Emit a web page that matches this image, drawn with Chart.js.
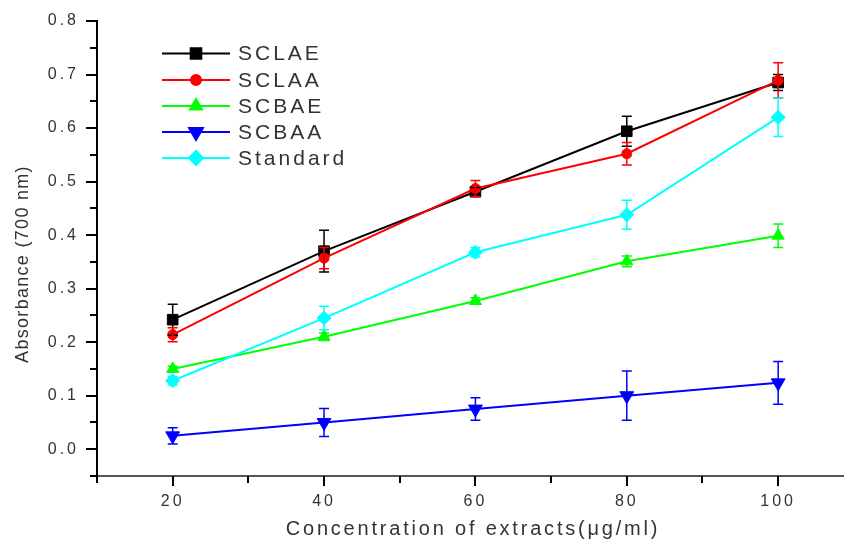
<!DOCTYPE html>
<html>
<head>
<meta charset="utf-8">
<script src="https://cdn.jsdelivr.net/npm/chart.js@4.4.0/dist/chart.umd.min.js"></script>
<style>
html, body { margin: 0; padding: 0; background: #fff; overflow: hidden; }
#wrap { position: relative; width: 844px; height: 542px; }
</style>
</head>
<body>
<div id="wrap"><canvas id="chart"></canvas></div>
<script>
// --- DATA ---
const concentrations = [20, 40, 60, 80, 100];
const xTickValues = [20, 40, 60, 80, 100];
const yTickValues = [0, 0.1, 0.2, 0.3, 0.4, 0.5, 0.6, 0.7, 0.8];
const seriesNames = ['SCLAE', 'SCLAA', 'SCBAE', 'SCBAA', 'Standard'];

const sclae = [0.242, 0.370, 0.481, 0.594, 0.685];
const sclaeErr = [0.029, 0.039, 0.008, 0.028, 0.015];
const sclaa = [0.214, 0.357, 0.487, 0.552, 0.689];
const sclaaErr = [0.013, 0.020, 0.015, 0.021, 0.033];
const scbae = [0.150, 0.210, 0.277, 0.351, 0.399];
const scbaeErr = [0.005, 0.007, 0.006, 0.010, 0.022];
const scbaa = [0.025, 0.050, 0.075, 0.100, 0.124];
const scbaaErr = [0.015, 0.026, 0.021, 0.046, 0.040];
const standard = [0.128, 0.245, 0.368, 0.438, 0.620];
const standardErr = [0.008, 0.022, 0.009, 0.027, 0.036];

// --- STYLE ---
const FONT = "'Liberation Sans', Arial, sans-serif";
const colors = ['#000000', '#ff0000', '#00ff00', '#0000ff', '#00ffff'];
const styles = [
    { pointStyle: 'rect', radius: 7.5, rotation: 0 },
    { pointStyle: 'circle', radius: 5, rotation: 0 },
    { pointStyle: 'triangle', radius: 7, rotation: 0 },
    { pointStyle: 'triangle', radius: 8, rotation: 180 },
    { pointStyle: 'rectRot', radius: 7, rotation: 0 }
];
const allValues = [sclae, sclaa, scbae, scbaa, standard];
const allErrors = [sclaeErr, sclaaErr, scbaeErr, scbaaErr, standardErr];

const datasets = seriesNames.map((name, i) => ({
    label: name,
    data: concentrations.map((c, j) => ({ x: c, y: allValues[i][j] })),
    errors: allErrors[i],
    borderColor: colors[i],
    backgroundColor: colors[i],
    borderWidth: 2,
    pointStyle: styles[i].pointStyle,
    pointRadius: styles[i].radius,
    pointRotation: styles[i].rotation,
    pointBorderWidth: 1,
    pointBorderColor: colors[i],
    pointBackgroundColor: colors[i],
    tension: 0,
    order: 10 - i // later series drawn on top
}));

// letter spacing for the stretched Origin-style text
const spacingPlugin = {
    id: 'spacing',
    beforeUpdate(chart) { chart.ctx.letterSpacing = '3px'; },
    beforeDraw(chart) { chart.ctx.letterSpacing = '3px'; }
};

// error bars
const errorBarPlugin = {
    id: 'errorBars',
    afterDatasetsDraw(chart) {
        const ctx = chart.ctx;
        const yScale = chart.scales.y;
        ctx.save();
        chart.data.datasets.forEach((ds, i) => {
            const meta = chart.getDatasetMeta(i);
            ctx.strokeStyle = ds.borderColor;
            ctx.lineWidth = 1.5;
            meta.data.forEach((pt, j) => {
                const v = ds.data[j].y;
                const e = ds.errors[j];
                const yTop = yScale.getPixelForValue(v + e);
                const yBot = yScale.getPixelForValue(v - e);
                ctx.beginPath();
                ctx.moveTo(pt.x, yTop);
                ctx.lineTo(pt.x, yBot);
                ctx.moveTo(pt.x - 5, yTop);
                ctx.lineTo(pt.x + 5, yTop);
                ctx.moveTo(pt.x - 5, yBot);
                ctx.lineTo(pt.x + 5, yBot);
                ctx.stroke();
            });
        });
        ctx.restore();
    }
};

// axis tick marks (major + minor), titles and legend
const decorPlugin = {
    id: 'decor',
    afterDraw(chart) {
        const ctx = chart.ctx;
        const { x, y } = chart.scales;
        const area = chart.chartArea;
        ctx.save();
        ctx.strokeStyle = '#000';
        ctx.lineWidth = 2;

        // y ticks
        for (let k = -1; k <= 16; k++) {
            const val = k * 0.05;
            const py = Math.round(y.getPixelForValue(val));
            const len = k % 2 === 0 ? 11 : 7;
            ctx.beginPath();
            ctx.moveTo(area.left - len, py);
            ctx.lineTo(area.left, py);
            ctx.stroke();
        }
        // x ticks
        for (let v = 10; v <= 100; v += 10) {
            const px = Math.round(x.getPixelForValue(v));
            const len = (v % 20 === 0) ? 10 : 7;
            ctx.beginPath();
            ctx.moveTo(px, area.bottom);
            ctx.lineTo(px, area.bottom + len);
            ctx.stroke();
        }

        // axis titles
        ctx.fillStyle = '#333';
        ctx.textAlign = 'center';
        ctx.textBaseline = 'middle';
        ctx.font = '20px ' + FONT;
        ctx.letterSpacing = '2.8px';
        ctx.fillText('Concentration of extracts(\u03bcg/ml)', 473, 529);

        ctx.save();
        ctx.translate(23, 264);
        ctx.rotate(-Math.PI / 2);
        ctx.font = '18px ' + FONT;
        ctx.letterSpacing = '1.3px';
        ctx.fillText('Absorbance (700 nm)', 0, 0);
        ctx.restore();

        // legend
        const rowY = [53.5, 80, 106, 132, 158];
        chart.data.datasets.forEach((ds, i) => {
            const ly = rowY[i];
            ctx.strokeStyle = ds.borderColor;
            ctx.lineWidth = 2;
            ctx.beginPath();
            ctx.moveTo(162, ly);
            ctx.lineTo(230, ly);
            ctx.stroke();
            ctx.fillStyle = ds.backgroundColor;
            Chart.helpers.drawPoint(ctx, {
                pointStyle: ds.pointStyle,
                radius: ds.pointRadius,
                rotation: ds.pointRotation,
                borderWidth: 1
            }, 196, ly);
            ctx.fillStyle = '#333';
            ctx.textAlign = 'left';
            ctx.font = '21px ' + FONT;
            ctx.letterSpacing = '3px';
            ctx.fillText(ds.label, 238, ly + 1);
        });
        ctx.restore();
    }
};

new Chart(document.getElementById('chart'), {
    type: 'line',
    data: { datasets: datasets },
    options: {
        responsive: true,
        maintainAspectRatio: false,
        animation: false,
        layout: { autoPadding: false, padding: { top: 21, left: 0, right: 0, bottom: 0 } },
        plugins: {
            legend: { display: false },
            tooltip: { enabled: false }
        },
        scales: {
            x: {
                type: 'linear',
                min: 10,
                max: 108.7, // the source figure is cropped at the right edge
                afterBuildTicks: (scale) => { scale.ticks = xTickValues.map(v => ({ value: v })); },
                afterFit: (scale) => {
                    scale.height = 66;
                    scale.paddingLeft = 0;
                    scale.paddingRight = 0;
                },
                grid: { display: false },
                border: { display: true, color: '#555', width: 2 },
                ticks: {
                    font: { family: FONT, size: 16 },
                    color: '#333',
                    padding: 8,
                    maxRotation: 0,
                    callback: (v) => String(v)
                }
            },
            y: {
                min: -0.05,
                max: 0.8,
                afterBuildTicks: (scale) => { scale.ticks = yTickValues.map(v => ({ value: v })); },
                afterFit: (scale) => {
                    scale.width = 97;
                    scale.paddingTop = 0;
                    scale.paddingBottom = 0;
                },
                grid: { display: false },
                border: { display: true, color: '#000', width: 2 },
                ticks: {
                    font: { family: FONT, size: 16 },
                    color: '#333',
                    padding: 10,
                    callback: (v) => Number(v).toFixed(1)
                }
            }
        }
    },
    plugins: [spacingPlugin, errorBarPlugin, decorPlugin]
});
</script>
</body>
</html>
